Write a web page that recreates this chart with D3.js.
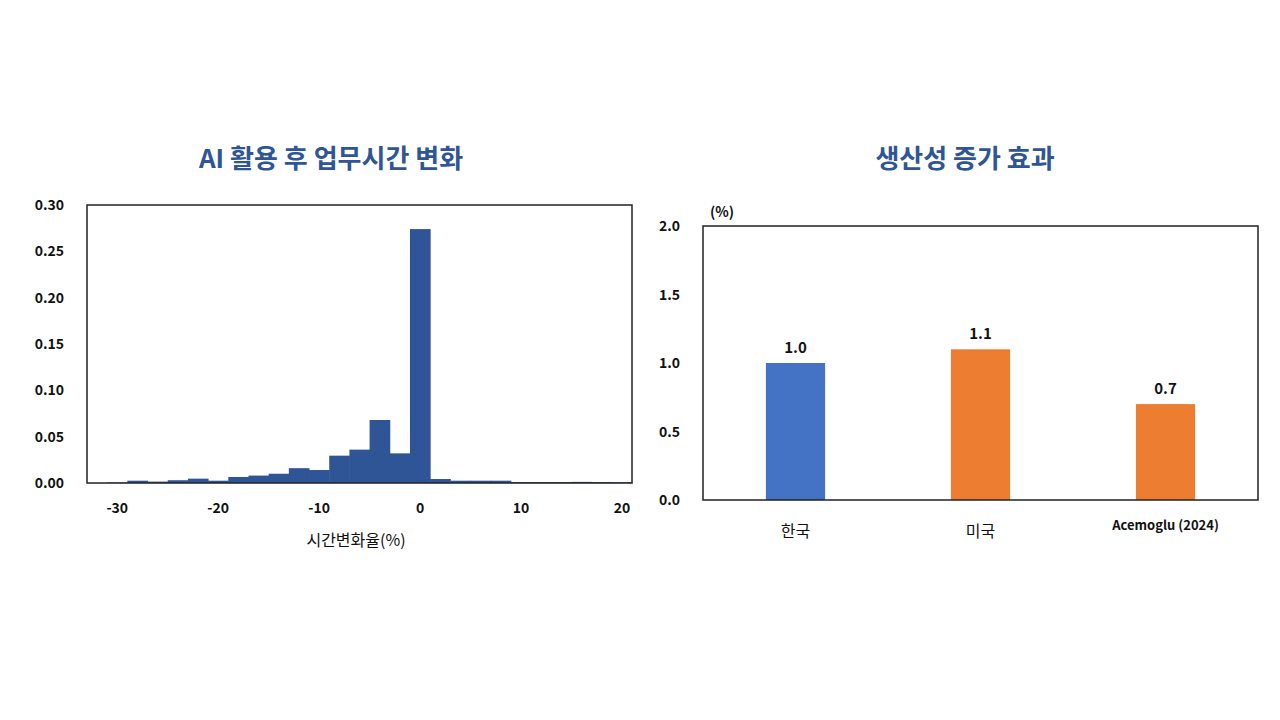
<!DOCTYPE html>
<html><head><meta charset="utf-8">
<script src="https://cdn.jsdelivr.net/npm/d3@7"></script>
<style>body{margin:0;background:#fff}text{font-family:"Noto Sans CJK KR","Noto Sans",sans-serif}</style>
</head><body><svg id="c" width="1280" height="720"></svg>
<script>
const binCenters=[-30,-28,-26,-24,-22,-20,-18,-16,-14,-12,-10,-8,-6,-4,-2,0,2,4,6,8,10,12,14,16,18,20];
const binValues=[0.0005,0.0025,0.0015,0.003,0.0047,0.0025,0.0065,0.008,0.01,0.016,0.014,0.0295,0.036,0.068,0.032,0.274,0.0043,0.0025,0.0025,0.0025,0.001,0.001,0.001,0.0012,0.001,0.0008];
const histXTicks=[-30,-20,-10,0,10,20];
const histYTicks=[0,0.05,0.10,0.15,0.20,0.25,0.30];
const prodCats=["한국","미국","Acemoglu (2024)"];
const prodValues=[1.0,1.1,0.7];
const prodColors=["#4472C4","#ED7D31","#ED7D31"];
const prodYTicks=[0,0.5,1.0,1.5,2.0];

const svg=d3.select("#c");
const titleColor="#2F5597";
// left chart
const x=d3.scaleLinear().domain([-33,21]).range([87,632]);
const y=d3.scaleLinear().domain([0,0.30]).range([483,205]);
svg.append("text").attr("x",331).attr("y",168).attr("text-anchor","middle").attr("font-size",26).attr("font-weight","bold").attr("fill",titleColor).text("AI 활용 후 업무시간 변화");
svg.append("g").selectAll("rect").data(binCenters).join("rect")
 .attr("x",d=>x(d-1)).attr("width",d=>x(d+1)-x(d-1)+0.5)
 .attr("y",(d,i)=>y(binValues[i])).attr("height",(d,i)=>y(0)-y(binValues[i])).attr("fill","#2F5597");
svg.append("rect").attr("x",87).attr("y",205).attr("width",545).attr("height",278).attr("fill","none").attr("stroke","#222").attr("stroke-width",1.5);
svg.append("g").selectAll("text").data(histYTicks).join("text").attr("x",64).attr("y",d=>y(d)+5).attr("text-anchor","end").attr("font-size",14).attr("font-weight","bold").attr("fill","#111").text(d=>d.toFixed(2));
svg.append("g").selectAll("text").data(histXTicks).join("text").attr("x",d=>x(d)).attr("y",513).attr("text-anchor","middle").attr("font-size",14).attr("font-weight","bold").attr("fill","#111").text(d=>d);
svg.append("text").attr("x",356).attr("y",546).attr("text-anchor","middle").attr("font-size",16).attr("fill","#111").text("시간변화율(%)");
// right chart
const xb=d3.scaleBand().domain(prodCats).range([703,1258]).paddingInner(0.68).paddingOuter(0.34);
const yb=d3.scaleLinear().domain([0,2]).range([500,226]);
svg.append("text").attr("x",965).attr("y",168).attr("text-anchor","middle").attr("font-size",26).attr("font-weight","bold").attr("fill",titleColor).text("생산성 증가 효과");
svg.append("g").selectAll("rect").data(prodCats).join("rect")
 .attr("x",d=>xb(d)).attr("width",xb.bandwidth()).attr("y",(d,i)=>yb(prodValues[i])).attr("height",(d,i)=>yb(0)-yb(prodValues[i])).attr("fill",(d,i)=>prodColors[i]);
svg.append("g").selectAll("text").data(prodCats).join("text").attr("x",d=>xb(d)+xb.bandwidth()/2).attr("y",(d,i)=>yb(prodValues[i])-10).attr("text-anchor","middle").attr("font-size",15).attr("font-weight","bold").attr("fill","#111").text((d,i)=>prodValues[i].toFixed(1));
svg.append("rect").attr("x",703).attr("y",226).attr("width",555).attr("height",274).attr("fill","none").attr("stroke","#222").attr("stroke-width",1.5);
svg.append("g").selectAll("text").data(prodYTicks).join("text").attr("x",680).attr("y",d=>yb(d)+5).attr("text-anchor","end").attr("font-size",14).attr("font-weight","bold").attr("fill","#111").text(d=>d.toFixed(1));
svg.append("text").attr("x",722).attr("y",217).attr("text-anchor","middle").attr("font-size",14).attr("font-weight","bold").attr("fill","#111").text("(%)");
svg.append("g").selectAll("text").data(prodCats).join("text").attr("x",d=>xb(d)+xb.bandwidth()/2).attr("y",(d,i)=>i==2?530:537).attr("text-anchor","middle").attr("font-size",(d,i)=>i==2?13:16).attr("font-weight",(d,i)=>i==2?"bold":"normal").attr("fill","#111").text(d=>d);
</script></body></html>
